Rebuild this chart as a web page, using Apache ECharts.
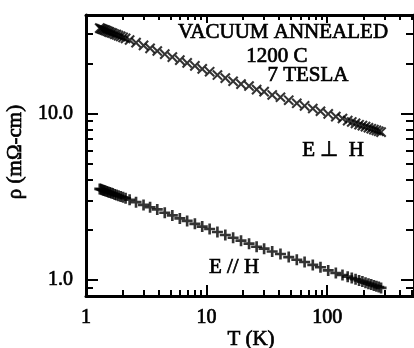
<!DOCTYPE html>
<html>
<head>
<meta charset="utf-8">
<script src="https://cdn.jsdelivr.net/npm/echarts@6/dist/echarts.min.js"></script>
<style>
  html, body { margin: 0; padding: 0; background: #fff; }
  #chart { width: 414px; height: 348px; }
</style>
</head>
<body>
<div id="chart"></div>
<script>
// Temperature points (K) shared by both field orientations
const temperatures = [
  1.30, 1.33, 1.36, 1.39, 1.42, 1.45, 1.49, 1.53, 1.57, 1.62, 1.67, 1.73, 1.79, 1.86, 1.94, 2.03, 2.13,
  2.3, 2.6, 3.0, 3.4, 3.9, 4.5, 5.2, 6.0, 6.9, 8.0, 9.2, 10.6, 12.3, 14.3, 16.6, 19.3, 22.5, 26, 30,
  35, 41, 48, 56, 65, 76, 88, 102, 118, 134, 148, 160, 172, 184, 196, 208, 220, 232, 244, 256, 268, 280
];
// Resistivity (mOhm-cm), E perpendicular to H
const rhoPerp = [
  32.5, 32.3, 32.1, 31.9, 31.7, 31.5, 31.3, 31.0, 30.8, 30.5, 30.3, 29.9, 29.7, 29.3, 29.0, 28.6, 28.2,
  27.6, 26.6, 25.6, 24.6, 23.7, 22.7, 21.8, 20.9, 20.1, 19.3, 18.5, 17.8, 17.0, 16.3, 15.6, 15.0, 14.6, 13.9, 13.5,
  12.9, 12.5, 12.0, 11.5, 11.1, 10.7, 10.3, 9.93, 9.57, 9.32, 9.05, 8.88, 8.72, 8.55, 8.44, 8.32, 8.20, 8.09, 7.99, 7.90, 7.81, 7.72
];
// Resistivity (mOhm-cm), E parallel to H
const rhoPar = [
  3.52, 3.50, 3.48, 3.46, 3.44, 3.42, 3.40, 3.37, 3.35, 3.32, 3.30, 3.26, 3.23, 3.20, 3.17, 3.13, 3.09,
  3.03, 2.93, 2.82, 2.73, 2.65, 2.53, 2.44, 2.34, 2.26, 2.17, 2.09, 2.02, 1.94, 1.86, 1.79, 1.72, 1.65, 1.58, 1.54,
  1.48, 1.43, 1.37, 1.32, 1.28, 1.23, 1.19, 1.14, 1.10, 1.07, 1.045, 1.025, 1.008, 0.991, 0.976, 0.962, 0.949, 0.937, 0.925, 0.915, 0.905, 0.895
];

const xMajorTicks = [1, 10, 100];
const xMinorTicks = [2, 3, 4, 5, 6, 7, 8, 9, 20, 30, 40, 50, 60, 70, 80, 90, 200, 300, 400, 500];
const yMajorTicks = [1, 10];
const yMinorTicks = [0.9, 2, 3, 4, 5, 6, 7, 8, 9, 20, 30];

const X_MIN = 1, X_MAX = 525;
const Y_MIN = 0.8, Y_MAX = 39;

const FONT = '"Liberation Serif", "Times New Roman", serif';
const INK = '#000';

function pairs(xs, ys) {
  return xs.map((x, i) => [x, ys[i]]);
}

// Regular serif face with a hairline outline for a slightly heavier print look
const labelText = {
  color: INK, fontFamily: FONT, fontSize: 20,
  textBorderColor: INK, textBorderWidth: 0.7
};

function xAxisDef(position, ticks, len, withLine, withLabels) {
  return {
    type: 'log', logBase: 10, min: X_MIN, max: X_MAX, position: position,
    axisLine: { show: withLine, onZero: false, lineStyle: { color: INK, width: 3 } },
    axisTick: { show: true, inside: true, length: len, customValues: ticks, lineStyle: { color: INK, width: 2 } },
    axisLabel: withLabels ? Object.assign({
      show: true, customValues: ticks, margin: 12, formatter: v => String(Math.round(v))
    }, labelText) : { show: false },
    splitLine: { show: false }, minorTick: { show: false }
  };
}

function yAxisDef(position, ticks, len, withLine, withLabels) {
  return {
    type: 'log', logBase: 10, min: Y_MIN, max: Y_MAX, position: position,
    axisLine: { show: withLine, onZero: false, lineStyle: { color: INK, width: 3 } },
    axisTick: { show: true, inside: true, length: len, customValues: ticks, lineStyle: { color: INK, width: 2 } },
    axisLabel: withLabels ? Object.assign({
      show: true, customValues: ticks, margin: 13, formatter: v => Number(v).toFixed(1)
    }, labelText) : { show: false },
    splitLine: { show: false }, minorTick: { show: false }
  };
}

// Filled cross outlines so the stroke weight scales with the symbol
const plusPath = 'path://M3.8,0h2.4v3.8h3.8v2.4h-3.8v3.8h-2.4v-3.8h-3.8v-2.4h3.8z';
const crossPath = 'path://M4.2,0h1.6v4.2h4.2v1.6h-4.2v4.2h-1.6v-4.2h-4.2v-1.6h4.2z';

const chart = echarts.init(document.getElementById('chart'), null, { renderer: 'canvas' });

function note(text, x, y, extra) {
  return Object.assign({
    type: 'text', x: x, y: y,
    style: {
      text: text, font: '21px ' + FONT, fill: INK, stroke: INK, lineWidth: 0.7,
      align: 'center', verticalAlign: 'middle'
    }
  }, extra || {});
}

chart.setOption({
  animation: false,
  backgroundColor: '#fff',
  grid: { left: 86, top: 15, width: 331, height: 281, containLabel: false },
  xAxis: [
    xAxisDef('bottom', xMajorTicks, 11, true, true),
    xAxisDef('bottom', xMinorTicks, 6, false, false),
    xAxisDef('top', xMajorTicks, 8, true, false),
    xAxisDef('top', xMinorTicks, 5, false, false)
  ],
  yAxis: [
    yAxisDef('left', yMajorTicks, 12, true, true),
    yAxisDef('left', yMinorTicks, 7, false, false),
    yAxisDef('right', yMajorTicks, 13, true, false),
    yAxisDef('right', yMinorTicks, 8, false, false)
  ],
  series: [
    {
      name: 'E ⊥ H', type: 'scatter', xAxisIndex: 0, yAxisIndex: 0,
      data: pairs(temperatures, rhoPerp),
      symbol: crossPath, symbolSize: 13, symbolRotate: 45,
      itemStyle: { color: INK }
    },
    {
      name: 'E // H', type: 'scatter', xAxisIndex: 0, yAxisIndex: 0,
      data: pairs(temperatures, rhoPar),
      symbol: plusPath, symbolSize: 11,
      itemStyle: { color: INK }
    }
  ],
  graphic: [
    note('VACUUM ANNEALED', 283, 32),
    note('1200 C', 277, 56),
    note('7 TESLA', 308, 75),
    note('E ⊥  H', 333, 150),
    note('E // H', 234, 267),
    note('T (K)', 251, 339),
    note('ρ (mΩ-cm)', 15, 152, { rotation: Math.PI / 2 })
  ]
});
</script>
</body>
</html>
